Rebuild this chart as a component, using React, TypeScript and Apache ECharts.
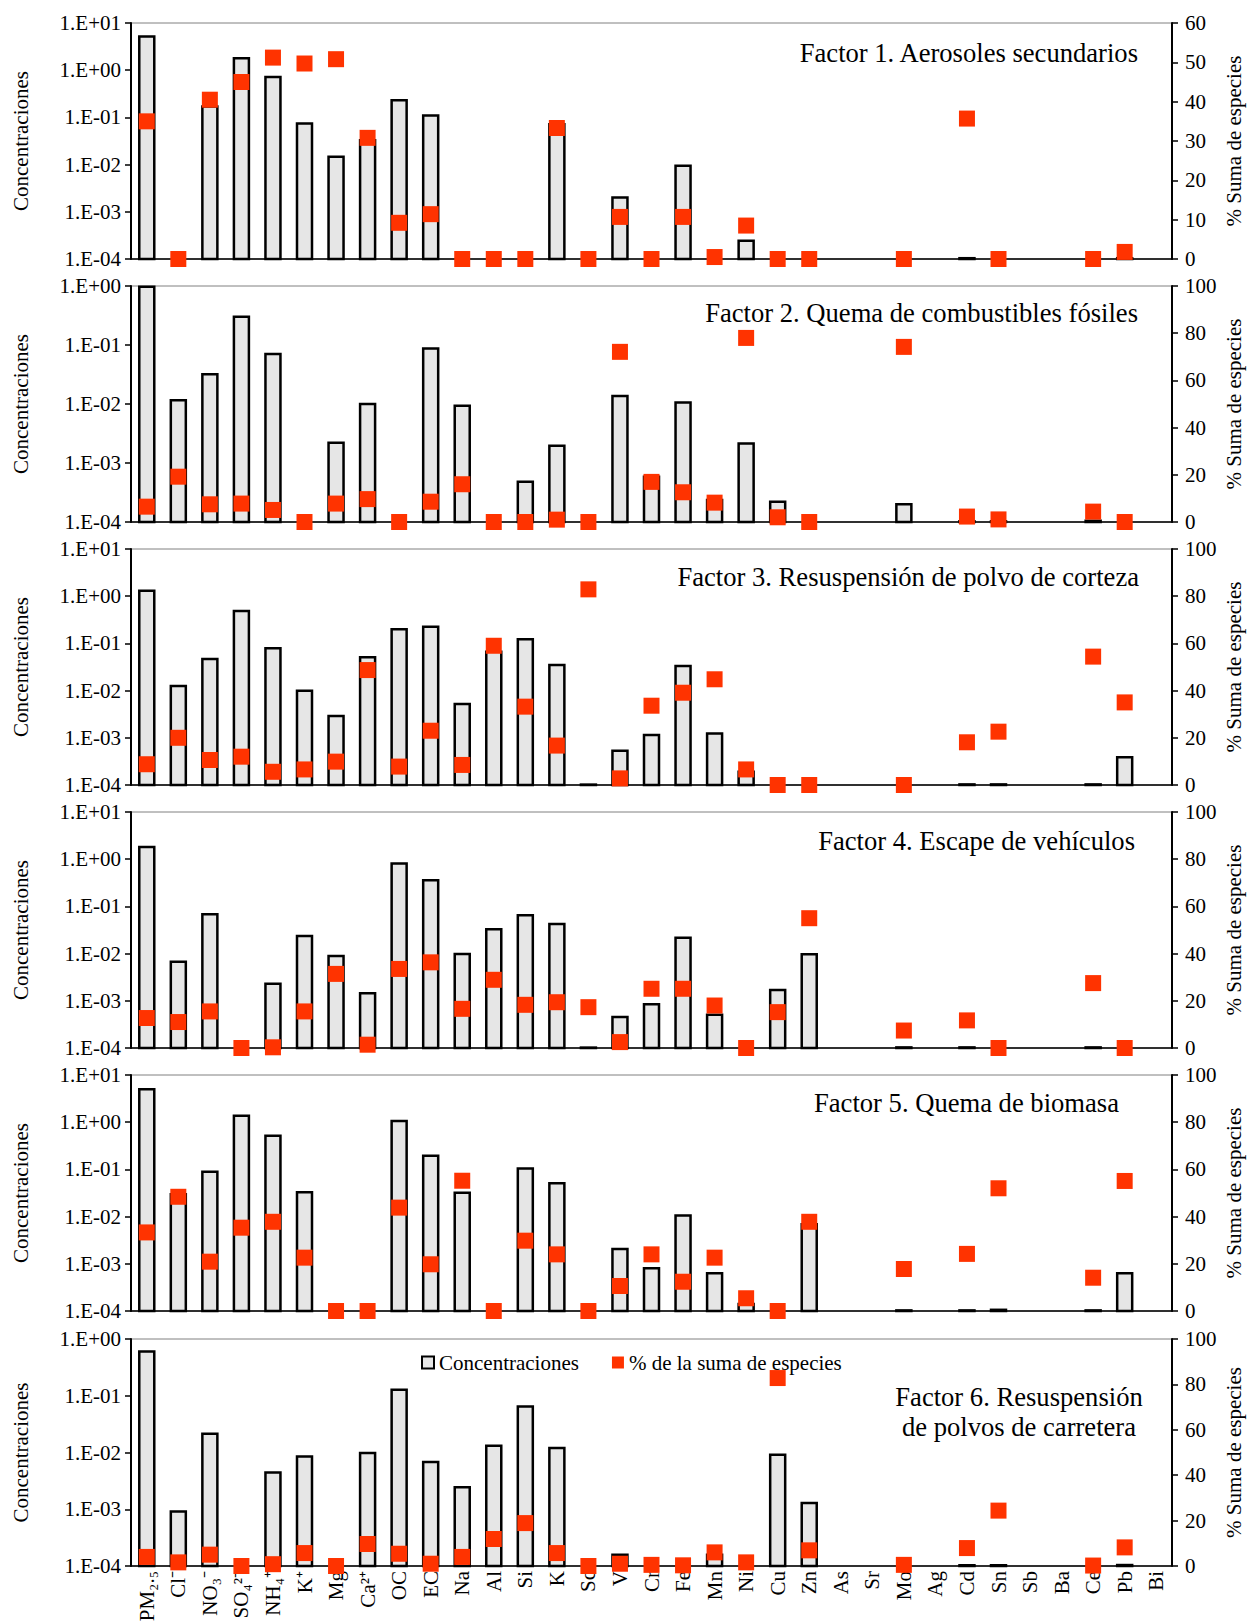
import React, { useEffect, useRef } from "react";
import * as echarts from "echarts";

// ---------- data ----------
const categories = [
  "PM₂.₅", "Cl⁻", "NO₃⁻", "SO₄²⁻", "NH₄⁺", "K⁺", "Mg", "Ca²⁺", "OC", "EC", "Na",
  "Al", "Si", "K", "Sc", "V", "Cr", "Fe", "Mn", "Ni", "Cu", "Zn", "As", "Sr",
  "Mo", "Ag", "Cd", "Sn", "Sb", "Ba", "Ce", "Pb", "Bi",
];

const factorTitles = [
  "Factor 1. Aerosoles secundarios",
  "Factor 2. Quema de combustibles fósiles",
  "Factor 3. Resuspensión de polvo de corteza",
  "Factor 4. Escape de vehículos",
  "Factor 5. Quema de biomasa",
  "Factor 6. Resuspensión\nde polvos de carretera",
];

const conc1 = [5.2, null, 0.17, 1.8, 0.72, 0.074, 0.0146, 0.033, 0.23, 0.11, null, null, null, 0.072, null, 0.002, null, 0.0094, null, 0.000244, null, null, null, null, null, null, 0.000104, null, null, null, null, 0.000104, null];
const pct1 = [35, 0, 40.5, 45, 51.2, 49.7, 50.8, 30.8, 9.2, 11.4, 0, 0, 0, 33.3, 0, 10.7, 0, 10.7, 0.5, 8.5, 0, 0, null, null, 0, null, 35.7, 0, null, null, 0, 1.8, null];

const conc2 = [0.97, 0.0116, 0.032, 0.3, 0.0706, null, 0.0022, 0.01, null, 0.087, 0.0093, null, 0.00048, 0.00196, null, 0.0137, 0.000585, 0.0106, 0.000236, 0.00215, 0.00022, null, null, null, 0.0002, null, 0.000103, 0.000103, null, null, 0.000105, null, null];
const pct2 = [6.5, 19.2, 7.5, 7.8, 5.1, 0, 7.8, 9.7, 0, 8.6, 16, 0, 0, 1, 0, 72.1, 17, 12.6, 8.2, 78, 2, 0, null, null, 74.2, null, 2.3, 1.1, null, null, 4.4, 0, null];

const conc3 = [1.31, 0.0125, 0.0467, 0.485, 0.0787, 0.00995, 0.0029, 0.0507, 0.199, 0.226, 0.0052, 0.0668, 0.122, 0.0349, 0.000102, 0.000533, 0.00115, 0.0332, 0.00124, 0.000191, null, null, null, null, null, null, 0.000103, 0.000103, null, null, 0.000103, 0.000386, null];
const pct3 = [8.8, 20, 10.6, 12, 5.6, 6.6, 9.9, 48.7, 7.8, 23, 8.5, 59, 33.2, 16.7, 82.9, 2.8, 33.6, 39.1, 44.8, 6.6, 0, 0, null, null, 0, null, 18.1, 22.6, null, null, 54.4, 35, null];

const conc4 = [1.82, 0.00676, 0.068, null, 0.00229, 0.0236, 0.0089, 0.00145, 0.81, 0.36, 0.00984, 0.0327, 0.0646, 0.0424, 0.000102, 0.000452, 0.00085, 0.0217, 0.000506, null, 0.0017, 0.0097, null, null, 0.000103, null, 0.000103, null, null, null, 0.000103, null, null];
const pct4 = [12.7, 11, 15.5, 0, 0.3, 15.5, 31.4, 1.4, 33.5, 36.3, 16.6, 28.9, 18.3, 19.4, 17.3, 2.5, 25.1, 25.1, 18, 0, 15.2, 55, null, null, 7.4, null, 11.7, 0, null, null, 27.5, 0, null];

const conc5 = [4.98, 0.0297, 0.0894, 1.37, 0.518, 0.0327, null, null, 1.06, 0.195, 0.032, null, 0.105, 0.0507, null, 0.00206, 0.0008, 0.0106, 0.00063, 0.00014, null, 0.00687, null, null, 0.000103, null, 0.000103, 0.000106, null, null, 0.000103, 0.00063, null];
const pct5 = [33.3, 48.4, 20.9, 35.3, 37.8, 22.6, 0, 0, 43.8, 19.8, 55.2, 0, 29.8, 24, 0, 10.6, 24, 12.4, 22.6, 5.4, 0, 37.8, null, null, 17.8, null, 24.2, 52, null, null, 14.1, 55.1, null];

const conc6 = [0.605, 0.000916, 0.0214, null, 0.00446, 0.00853, null, 0.0098, 0.128, 0.0068, 0.00243, 0.0132, 0.0649, 0.012, null, 0.000158, null, null, 0.000158, null, 0.00915, 0.00129, null, null, null, null, 0.000103, 0.000103, null, null, null, 0.000104, null];
const pct6 = [4, 1.6, 5, 0, 0.8, 5.7, 0, 9.7, 5.4, 1, 4, 11.9, 18.9, 5.7, 0, 1, 0.5, 0.3, 6, 1.6, 82.8, 6.9, null, null, 0.5, null, 7.9, 24.4, null, null, 0.2, 8.2, null];

const concMax = [10, 1, 10, 10, 10, 1];
const pctMax = [60, 100, 100, 100, 100, 100];
const pctStep = [10, 20, 20, 20, 20, 20];

const concData = [conc1, conc2, conc3, conc4, conc5, conc6];
const pctData = [pct1, pct2, pct3, pct4, pct5, pct6];

// ---------- layout / style ----------
const FONT = "'Liberation Serif', 'Times New Roman', serif";
const CONC_MIN = 1e-4;
const GRID_LEFT = 131;
const GRID_WIDTH = 1041;
const panelTop = [23, 286, 549, 812, 1075, 1339];
const panelHeight = [236, 236, 236, 236, 236, 227];
const titlePos = [
  { x: 1138, y: 53, align: "right" },
  { x: 1138, y: 313, align: "right" },
  { x: 1139, y: 577, align: "right" },
  { x: 1135, y: 841, align: "right" },
  { x: 1119, y: 1103, align: "right" },
  { x: 1019, y: 1412, align: "center" },
];

const BAR_W = 15;

function expLabel(v: number) {
  const e = Math.round(Math.log10(v));
  const s = e < 0 ? "-" : "+";
  return "1.E" + s + String(Math.abs(e)).padStart(2, "0");
}

export default function App() {
  const ref = useRef<HTMLDivElement>(null);

  useEffect(() => {
    document.body.style.margin = "0";
    const chart = echarts.init(ref.current!, null, { renderer: "svg" });

    const grids: any[] = [];
    const xAxes: any[] = [];
    const yAxes: any[] = [];
    const series: any[] = [];

    for (let i = 0; i < 6; i++) {
      grids.push({
        left: GRID_LEFT,
        top: panelTop[i],
        width: GRID_WIDTH,
        height: panelHeight[i],
        show: true,
        borderColor: "#808080",
        borderWidth: 1,
        backgroundColor: "rgba(0,0,0,0)",
        outerBoundsMode: "none",
      });
      xAxes.push({
        type: "category",
        gridIndex: i,
        data: categories,
        boundaryGap: true,
        axisLine: { show: true, onZero: false, lineStyle: { color: "#000", width: 1.5 } },
        axisTick: { show: false },
        splitLine: { show: false },
        axisLabel: {
          show: i === 5,
          interval: 0,
          rotate: 90,
          margin: 5,
          fontSize: 21,
          fontFamily: FONT,
          color: "#000",
        },
      });
      yAxes.push({
        type: "log",
        logBase: 10,
        gridIndex: i,
        position: "left",
        min: CONC_MIN,
        max: concMax[i],
        axisLine: { show: true, lineStyle: { color: "#000", width: 2 } },
        axisTick: { show: true, inside: false, length: 6, lineStyle: { color: "#000", width: 1.5 } },
        minorTick: { show: false },
        splitLine: { show: false },
        axisLabel: {
          margin: 10,
          fontSize: 21,
          fontFamily: FONT,
          color: "#000",
          formatter: (v: number) => expLabel(v),
        },
        name: "Concentraciones",
        nameLocation: "middle",
        nameGap: 100,
        nameMoveOverlap: false,
        nameTextStyle: { fontSize: 21, fontFamily: FONT, color: "#000" },
      });
      yAxes.push({
        type: "value",
        gridIndex: i,
        position: "right",
        min: 0,
        max: pctMax[i],
        interval: pctStep[i],
        axisLine: { show: true, lineStyle: { color: "#000", width: 2 } },
        axisTick: { show: true, inside: false, length: 6, lineStyle: { color: "#000", width: 1.5 } },
        splitLine: { show: false },
        axisLabel: { margin: 13, fontSize: 21, fontFamily: FONT, color: "#000" },
        name: "% Suma de especies",
        nameLocation: "middle",
        nameGap: 51,
        nameMoveOverlap: false,
        nameTextStyle: { fontSize: 21, fontFamily: FONT, color: "#000" },
      });

      const conc = concData[i];
      const pct = pctData[i];
      series.push({
        type: "custom",
        name: "Concentraciones",
        coordinateSystem: "cartesian2d",
        xAxisIndex: i,
        yAxisIndex: 2 * i,
        encode: { x: 0, y: 1 },
        data: conc
          .map((v, k) => (v == null ? null : [k, v]))
          .filter((d) => d !== null),
        itemStyle: { color: "#e6e6e6", borderColor: "#000", borderWidth: 2 },
        renderItem: (params: any, api: any) => {
          const x = api.value(0);
          const v = api.value(1);
          const top = api.coord([x, v]);
          const base = api.coord([x, CONC_MIN]);
          return {
            type: "rect",
            shape: {
              x: top[0] - BAR_W / 2,
              y: top[1],
              width: BAR_W,
              height: base[1] - top[1],
            },
            style: { fill: "#e6e6e6", stroke: "#000", lineWidth: 2.5 },
          };
        },
        z: 2,
      });
      series.push({
        type: "scatter",
        name: "% de la suma de especies",
        xAxisIndex: i,
        yAxisIndex: 2 * i + 1,
        symbol: "rect",
        symbolSize: 16,
        clip: false,
        itemStyle: { color: "#ff3300", opacity: 1 },
        data: pct
          .map((v, k) => (v == null ? null : [k, v]))
          .filter((d) => d !== null),
        z: 3,
      });
    }

    const graphic = factorTitles.map((t, i) => ({
      type: "text",
      x: titlePos[i].x,
      y: titlePos[i].y,
      z: 10,
      style: {
        text: t,
        fontSize: 26.6,
        fontFamily: FONT,
        fill: "#000",
        align: titlePos[i].align,
        verticalAlign: "middle",
        lineHeight: 30,
      },
    }));

    chart.setOption({
      animation: false,
      backgroundColor: "#fff",
      grid: grids,
      xAxis: xAxes,
      yAxis: yAxes,
      series,
      graphic,
      legend: {
        left: 421,
        top: 1352,
        padding: 0,
        itemWidth: 12,
        itemHeight: 12,
        itemGap: 33,
        selectedMode: false,
        textStyle: { fontSize: 21, fontFamily: FONT, color: "#000" },
        data: [
          {
            name: "Concentraciones",
            icon: "rect",
            itemStyle: { color: "#e6e6e6", borderColor: "#000", borderWidth: 2 },
          },
          {
            name: "% de la suma de especies",
            icon: "rect",
            itemStyle: { color: "#ff3300" },
          },
        ],
      },
    });

    return () => chart.dispose();
  }, []);

  return <div ref={ref} style={{ width: 1247, height: 1621 }} />;
}
